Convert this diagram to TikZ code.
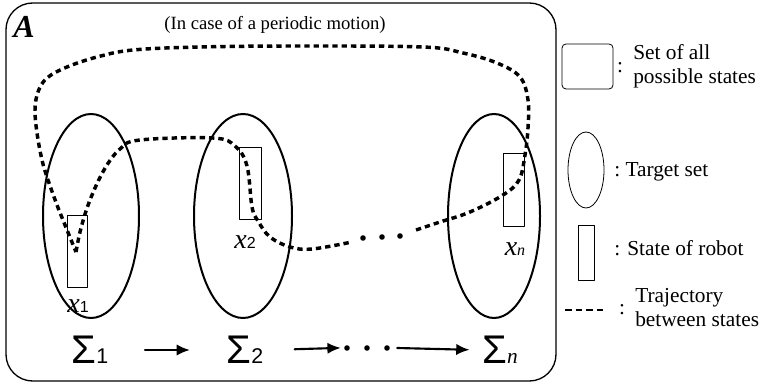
\documentclass[tikz,border=0pt]{standalone}
\usepackage{fontspec}
\setmainfont{Liberation Serif}
\newfontfamily\sansdigits{Liberation Sans}
\usetikzlibrary{arrows.meta}

\newcommand{\sigmalab}[1]{{\sansdigits\fontsize{30}{30}\selectfont Σ}{\fontsize{16}{16}\selectfont #1}}
\newcommand{\statelab}[1]{{\fontsize{21}{21}\selectfont\itshape x}{\fontsize{12}{12}\selectfont #1}}

\tikzset{
  targetset/.style={line width=1.5pt},
  robotstate/.style={line width=0.75pt},
  traj/.style={line width=2.6pt,line cap=butt,dash pattern=on 4pt off 3pt},
  mapsto/.style={line width=1.6pt,-{Latex[length=10pt,width=8.5pt]}},
  legtext/.style={font=\fontsize{16}{18}\selectfont,anchor=west,align=left,inner sep=0pt},
}

\begin{document}
\begin{tikzpicture}[x=0.75pt,y=-0.75pt,line cap=round,line join=round]
  \useasboundingbox (0,0) rectangle (763,384);
  % frame
  \draw[line width=1pt,rounded corners=20pt] (6,3) rectangle (556,381);
  \node (panel) at (24,27) {\fontsize{24}{24}\selectfont\bfseries\itshape A};
  \node (note) at (275,25) {\fontsize{14}{16}\selectfont (In case of a periodic motion)};

  % target sets and states
  \draw[targetset] (91,216) ellipse (48 and 102);
  \draw[targetset] (243,216) ellipse (49 and 102);
  \draw[targetset] (494,216) ellipse (46 and 102);
  \draw[robotstate] (67,216) rectangle (87,288);
  \draw[robotstate] (239,148) rectangle (261,220);
  \draw[robotstate] (503,154) rectangle (524,227);
  \node (x1) at (78,306) {\statelab{\sansdigits 1}};
  \node (x2) at (245,242) {\statelab{\sansdigits 2}};
  \node (xn) at (515,249) {\statelab{\textit{n}}};

  % trajectory
  \draw[traj] plot[smooth,tension=0.6] coordinates {(76,252) (81,228) (90,200) (104,170) (120,149) (140,140) (213,138) (235,146) (247,166) (252,207) (258,221) (270,237) (290,247) (312,249) (352,242)};
  \fill (363,238) circle (2.1pt);
  \fill (382,237) circle (2.1pt);
  \fill (400,236) circle (2.1pt);
  \draw[traj] plot[smooth,tension=0.6] coordinates {(416,230) (440,222) (470,212) (503,195) (519,180) (525,155) (528,128) (528,100) (520,77) (497,63) (463,53) (423,47) (300,46) (200,47) (133,50) (97,57) (67,67) (47,78) (38,92) (35,110) (37,133) (42,160) (48,180) (57,205) (65,225) (76,252)};

  % chain of target sets
  \node (s1) at (90,350) {\sigmalab{\sansdigits 1}};
  \node (s2) at (245,350) {\sigmalab{\sansdigits 2}};
  \node (sn) at (500,350) {\sigmalab{\textit{n}}};
  \node[minimum width=45pt,inner sep=0pt] (more) at (367,348) {};
  \foreach \dx in {-20,0,20}
    \fill ([xshift=\dx*0.75pt]more.center) circle (2.1pt);
  \draw[mapsto,shorten <=24pt,shorten >=24pt] (s1.east) -- (s2.west);
  \draw[mapsto,shorten <=20pt,shorten >=-3pt] (s2.east) -- (more.west);
  \draw[mapsto,shorten >=6pt] (more.east) -- (sn.west);

  % legend
  \draw[line width=0.6pt,rounded corners=3pt] (562,44) rectangle (613,89);
  \node (c1) at (620,68) {\fontsize{16}{16}\selectfont :};
  \node[legtext] (allstates) at (633,66) {Set of all\\possible states};
  \draw[line width=0.6pt] (586,170) ellipse (18 and 38);
  \node[legtext] (targetlab) at (614,172) {:\ Target set};
  \draw[line width=0.6pt] (578,225) rectangle (594,280);
  \node[legtext] (statelab) at (614,248) {: State of robot};
  \draw[line width=2pt,line cap=butt,dash pattern=on 5pt off 3pt] (565,310) -- (603,310);
  \node (c4) at (622,310) {\fontsize{16}{16}\selectfont :};
  \node[legtext] (trajlab) at (635,308) {Trajectory\\between states};
\end{tikzpicture}
\end{document}
